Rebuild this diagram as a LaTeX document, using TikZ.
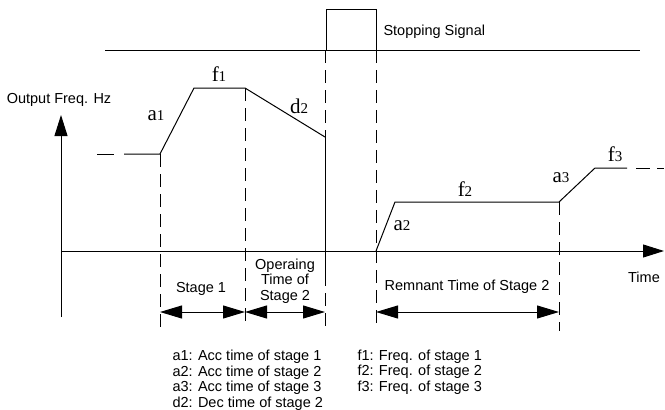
\documentclass[tikz,border=0pt]{standalone}
\usepackage{fontspec}
\setmainfont{Liberation Sans}
\newfontfamily\curvefont{Liberation Serif}
\usetikzlibrary{arrows.meta}
\begin{document}
\begin{tikzpicture}[x=1pt,y=-1pt,
  line width=1pt,
  dsh/.style={dash pattern=on 13pt off 7pt},
  txt/.style={font=\fontsize{14.5}{15.5}\selectfont, inner sep=0pt},
  clab/.style={font=\curvefont\fontsize{21}{21}\selectfont, inner sep=0pt},
  bigarrow/.style={-{Triangle[length=21pt,width=13pt]}},
  spanarrow/.style={{Triangle[length=22pt,width=13pt]}-{Triangle[length=22pt,width=13pt]}},
]
\newcommand{\dg}[1]{{\fontsize{15}{15}\selectfont #1}}
\useasboundingbox (0,0) rectangle (665,410);
% stopping signal
\coordinate (tl) at (105,50);
\coordinate (tr) at (640,50);
\coordinate (p1) at (326,50);
\coordinate (p2) at (326,9);
\coordinate (p3) at (376,9);
\coordinate (p4) at (376,50);
\draw (tl) -- (tr);
\draw (p1) -- (p2) -- (p3) -- (p4);
\node[txt, anchor=west] (stop) at (383,32) {Stopping Signal};
% axes
\coordinate (yb) at (61,317);
\coordinate (yt) at (61,115);
\draw[bigarrow] (yb) -- (yt);
\node[txt] (ylab) at (59,100) {Output Freq. Hz};
\coordinate (xa0) at (61,251);
\coordinate (xa1) at (664,251);
\draw[bigarrow] (xa0) -- (xa1);
\node[txt] (xlab) at (644,277) {Time};
% curve part 1
\coordinate (c0) at (97,154);
\coordinate (c0b) at (114,154);
\coordinate (c1) at (124,154);
\coordinate (c2) at (160,154);
\coordinate (c3) at (194,88);
\coordinate (c4) at (245,88);
\coordinate (c5) at (325,137);
\draw (c0) -- (c0b);
\draw (c1) -- (c2) -- (c3) -- (c4) -- (c5);
% curve part 2
\coordinate (r0) at (376,251);
\coordinate (r1) at (395,202);
\coordinate (r2) at (559,202);
\coordinate (r3) at (595,168);
\coordinate (r4) at (627,168);
\coordinate (r5) at (636,168);
\coordinate (r6) at (650,168);
\coordinate (r7) at (657,168);
\coordinate (r8) at (664,168);
\draw (r0) -- (r1) -- (r2) -- (r3) -- (r4);
\draw (r5) -- (r6);
\draw (r7) -- (r8);
% vertical guides
\coordinate (v1b) at (160,328);
\coordinate (v2b) at (245,328);
\coordinate (v3t) at (325,50);
\coordinate (v3s) at (325,273);
\coordinate (v3b) at (325,330);
\coordinate (v4b) at (376,330);
\coordinate (v5b) at (559,331);
\draw[dsh] (c2) -- (v1b);
\draw[dsh] (c4) -- (v2b);
\draw[dsh] (v3t) -- (c5);
\draw (c5) -- (v3s);
\draw[dsh] (v3s) -- (v3b);
\draw[dsh] (p4) -- (v4b);
\draw[dsh] (r2) -- (v5b);
% curve labels
\node[clab] (la1) at (156,116) {a\dg{1}};
\node[clab] (lf1) at (219,74) {f\dg{1}};
\node[clab] (ld2) at (299,106) {d\dg{2}};
\node[clab] (la2) at (402,226) {a\dg{2}};
\node[clab] (lf2) at (465,189) {f\dg{2}};
\node[clab] (la3) at (561,178) {a\dg{3}};
\node[clab] (lf3) at (615,154) {f\dg{3}};
% stage spans
\coordinate (s1a) at (160,312);
\coordinate (s1b) at (245,312);
\coordinate (s2b) at (325,312);
\coordinate (s3a) at (376,312);
\coordinate (s3b) at (559,312);
\draw[spanarrow] (s1a) -- (s1b);
\draw[spanarrow] (s1b) -- (s2b);
\draw[spanarrow] (s3a) -- (s3b);
\node[txt] (st1) at (201,289) {Stage 1};
\node[txt, align=center, anchor=north] (st2) at (285,258) {Operaing\\Time of\\Stage 2};
\node[txt] (st3) at (467,287) {Remnant Time of Stage 2};
% legend
\node[txt, align=left, anchor=north west, font=\fontsize{14.5}{15.5}\selectfont] (leg1) at (172,349.5)
  {a1: Acc time of stage 1\\a2: Acc time of stage 2\\a3: Acc time of stage 3\\d2: Dec time of stage 2};
\node[txt, align=left, anchor=north west, font=\fontsize{14.5}{15.5}\selectfont] (leg2) at (357,349.5)
  {f1: Freq. of stage 1\\f2: Freq. of stage 2\\f3: Freq. of stage 3};
\end{tikzpicture}
\end{document}
